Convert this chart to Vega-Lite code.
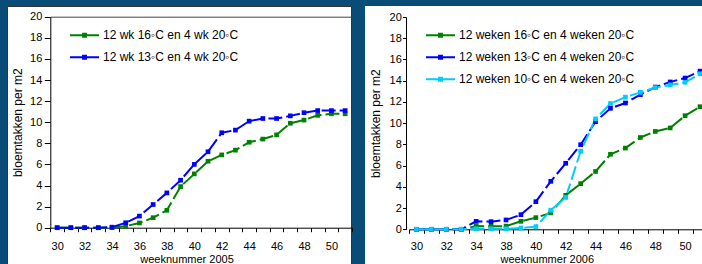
{
  "$schema": "https://vega.github.io/schema/vega-lite/v6.json",
  "background": "#0a4c78",
  "padding": {"left": 6, "top": 5, "right": 0, "bottom": 0},
  "spacing": 14,
  "bounds": "flush",
  "config": {
    "font": "Liberation Sans",
    "axis": {"labelFont": "Liberation Sans", "titleFont": "Liberation Sans", "labelColor": "#000", "titleColor": "#000", "domainColor": "#000", "tickColor": "#000", "grid": false, "labelFontSize": 11, "titleFontWeight": "normal"},
    "legend": {"labelFont": "Liberation Sans", "labelFontSize": 12, "labelColor": "#000", "padding": 0, "labelOffset": 3, "labelLimit": 400}
  },
  "datasets": {
    "left": [
      {"week": "30", "series": "12 wk 16\u25e6C en 4 wk 20\u25e6C", "value": 0},
      {"week": "31", "series": "12 wk 16\u25e6C en 4 wk 20\u25e6C", "value": 0},
      {"week": "32", "series": "12 wk 16\u25e6C en 4 wk 20\u25e6C", "value": 0},
      {"week": "33", "series": "12 wk 16\u25e6C en 4 wk 20\u25e6C", "value": 0},
      {"week": "34", "series": "12 wk 16\u25e6C en 4 wk 20\u25e6C", "value": 0},
      {"week": "35", "series": "12 wk 16\u25e6C en 4 wk 20\u25e6C", "value": 0.15},
      {"week": "36", "series": "12 wk 16\u25e6C en 4 wk 20\u25e6C", "value": 0.45},
      {"week": "37", "series": "12 wk 16\u25e6C en 4 wk 20\u25e6C", "value": 0.95},
      {"week": "38", "series": "12 wk 16\u25e6C en 4 wk 20\u25e6C", "value": 1.65},
      {"week": "39", "series": "12 wk 16\u25e6C en 4 wk 20\u25e6C", "value": 3.9},
      {"week": "40", "series": "12 wk 16\u25e6C en 4 wk 20\u25e6C", "value": 5.1},
      {"week": "41", "series": "12 wk 16\u25e6C en 4 wk 20\u25e6C", "value": 6.3},
      {"week": "42", "series": "12 wk 16\u25e6C en 4 wk 20\u25e6C", "value": 6.9},
      {"week": "43", "series": "12 wk 16\u25e6C en 4 wk 20\u25e6C", "value": 7.35},
      {"week": "44", "series": "12 wk 16\u25e6C en 4 wk 20\u25e6C", "value": 8.1},
      {"week": "45", "series": "12 wk 16\u25e6C en 4 wk 20\u25e6C", "value": 8.4},
      {"week": "46", "series": "12 wk 16\u25e6C en 4 wk 20\u25e6C", "value": 8.8},
      {"week": "47", "series": "12 wk 16\u25e6C en 4 wk 20\u25e6C", "value": 9.9},
      {"week": "48", "series": "12 wk 16\u25e6C en 4 wk 20\u25e6C", "value": 10.2},
      {"week": "49", "series": "12 wk 16\u25e6C en 4 wk 20\u25e6C", "value": 10.65},
      {"week": "50", "series": "12 wk 16\u25e6C en 4 wk 20\u25e6C", "value": 10.8},
      {"week": "51", "series": "12 wk 16\u25e6C en 4 wk 20\u25e6C", "value": 10.8},
      {"week": "30", "series": "12 wk 13\u25e6C en 4 wk 20\u25e6C", "value": 0},
      {"week": "31", "series": "12 wk 13\u25e6C en 4 wk 20\u25e6C", "value": 0},
      {"week": "32", "series": "12 wk 13\u25e6C en 4 wk 20\u25e6C", "value": 0},
      {"week": "33", "series": "12 wk 13\u25e6C en 4 wk 20\u25e6C", "value": 0},
      {"week": "34", "series": "12 wk 13\u25e6C en 4 wk 20\u25e6C", "value": 0.05},
      {"week": "35", "series": "12 wk 13\u25e6C en 4 wk 20\u25e6C", "value": 0.47},
      {"week": "36", "series": "12 wk 13\u25e6C en 4 wk 20\u25e6C", "value": 1.1},
      {"week": "37", "series": "12 wk 13\u25e6C en 4 wk 20\u25e6C", "value": 2.2},
      {"week": "38", "series": "12 wk 13\u25e6C en 4 wk 20\u25e6C", "value": 3.3},
      {"week": "39", "series": "12 wk 13\u25e6C en 4 wk 20\u25e6C", "value": 4.5},
      {"week": "40", "series": "12 wk 13\u25e6C en 4 wk 20\u25e6C", "value": 6.0},
      {"week": "41", "series": "12 wk 13\u25e6C en 4 wk 20\u25e6C", "value": 7.2},
      {"week": "42", "series": "12 wk 13\u25e6C en 4 wk 20\u25e6C", "value": 9.0},
      {"week": "43", "series": "12 wk 13\u25e6C en 4 wk 20\u25e6C", "value": 9.25},
      {"week": "44", "series": "12 wk 13\u25e6C en 4 wk 20\u25e6C", "value": 10.1},
      {"week": "45", "series": "12 wk 13\u25e6C en 4 wk 20\u25e6C", "value": 10.35},
      {"week": "46", "series": "12 wk 13\u25e6C en 4 wk 20\u25e6C", "value": 10.35},
      {"week": "47", "series": "12 wk 13\u25e6C en 4 wk 20\u25e6C", "value": 10.6},
      {"week": "48", "series": "12 wk 13\u25e6C en 4 wk 20\u25e6C", "value": 10.9},
      {"week": "49", "series": "12 wk 13\u25e6C en 4 wk 20\u25e6C", "value": 11.1},
      {"week": "50", "series": "12 wk 13\u25e6C en 4 wk 20\u25e6C", "value": 11.1},
      {"week": "51", "series": "12 wk 13\u25e6C en 4 wk 20\u25e6C", "value": 11.1}
    ],
    "right": [
      {"week": "30", "series": "12 weken 16\u25e6C en 4 weken 20\u25e6C", "value": 0},
      {"week": "31", "series": "12 weken 16\u25e6C en 4 weken 20\u25e6C", "value": 0},
      {"week": "32", "series": "12 weken 16\u25e6C en 4 weken 20\u25e6C", "value": 0},
      {"week": "33", "series": "12 weken 16\u25e6C en 4 weken 20\u25e6C", "value": 0},
      {"week": "34", "series": "12 weken 16\u25e6C en 4 weken 20\u25e6C", "value": 0.3},
      {"week": "35", "series": "12 weken 16\u25e6C en 4 weken 20\u25e6C", "value": 0.28},
      {"week": "38", "series": "12 weken 16\u25e6C en 4 weken 20\u25e6C", "value": 0.3},
      {"week": "39", "series": "12 weken 16\u25e6C en 4 weken 20\u25e6C", "value": 0.75},
      {"week": "40", "series": "12 weken 16\u25e6C en 4 weken 20\u25e6C", "value": 1.1},
      {"week": "41", "series": "12 weken 16\u25e6C en 4 weken 20\u25e6C", "value": 1.55},
      {"week": "42", "series": "12 weken 16\u25e6C en 4 weken 20\u25e6C", "value": 3.2},
      {"week": "43", "series": "12 weken 16\u25e6C en 4 weken 20\u25e6C", "value": 4.3},
      {"week": "44", "series": "12 weken 16\u25e6C en 4 weken 20\u25e6C", "value": 5.45},
      {"week": "45", "series": "12 weken 16\u25e6C en 4 weken 20\u25e6C", "value": 7.07},
      {"week": "46", "series": "12 weken 16\u25e6C en 4 weken 20\u25e6C", "value": 7.65},
      {"week": "47", "series": "12 weken 16\u25e6C en 4 weken 20\u25e6C", "value": 8.65},
      {"week": "48", "series": "12 weken 16\u25e6C en 4 weken 20\u25e6C", "value": 9.22},
      {"week": "49", "series": "12 weken 16\u25e6C en 4 weken 20\u25e6C", "value": 9.55},
      {"week": "50", "series": "12 weken 16\u25e6C en 4 weken 20\u25e6C", "value": 10.7},
      {"week": "51", "series": "12 weken 16\u25e6C en 4 weken 20\u25e6C", "value": 11.55},
      {"week": "30", "series": "12 weken 13\u25e6C en 4 weken 20\u25e6C", "value": 0},
      {"week": "31", "series": "12 weken 13\u25e6C en 4 weken 20\u25e6C", "value": 0},
      {"week": "32", "series": "12 weken 13\u25e6C en 4 weken 20\u25e6C", "value": 0},
      {"week": "33", "series": "12 weken 13\u25e6C en 4 weken 20\u25e6C", "value": 0},
      {"week": "34", "series": "12 weken 13\u25e6C en 4 weken 20\u25e6C", "value": 0.75},
      {"week": "35", "series": "12 weken 13\u25e6C en 4 weken 20\u25e6C", "value": 0.72},
      {"week": "38", "series": "12 weken 13\u25e6C en 4 weken 20\u25e6C", "value": 0.88},
      {"week": "39", "series": "12 weken 13\u25e6C en 4 weken 20\u25e6C", "value": 1.38},
      {"week": "40", "series": "12 weken 13\u25e6C en 4 weken 20\u25e6C", "value": 2.6},
      {"week": "41", "series": "12 weken 13\u25e6C en 4 weken 20\u25e6C", "value": 4.52},
      {"week": "42", "series": "12 weken 13\u25e6C en 4 weken 20\u25e6C", "value": 6.22},
      {"week": "43", "series": "12 weken 13\u25e6C en 4 weken 20\u25e6C", "value": 7.97},
      {"week": "44", "series": "12 weken 13\u25e6C en 4 weken 20\u25e6C", "value": 10.14},
      {"week": "45", "series": "12 weken 13\u25e6C en 4 weken 20\u25e6C", "value": 11.4},
      {"week": "46", "series": "12 weken 13\u25e6C en 4 weken 20\u25e6C", "value": 11.9},
      {"week": "47", "series": "12 weken 13\u25e6C en 4 weken 20\u25e6C", "value": 12.68},
      {"week": "48", "series": "12 weken 13\u25e6C en 4 weken 20\u25e6C", "value": 13.4},
      {"week": "49", "series": "12 weken 13\u25e6C en 4 weken 20\u25e6C", "value": 13.88},
      {"week": "50", "series": "12 weken 13\u25e6C en 4 weken 20\u25e6C", "value": 14.25},
      {"week": "51", "series": "12 weken 13\u25e6C en 4 weken 20\u25e6C", "value": 14.9},
      {"week": "30", "series": "12 weken 10\u25e6C en 4 weken 20\u25e6C", "value": 0},
      {"week": "31", "series": "12 weken 10\u25e6C en 4 weken 20\u25e6C", "value": 0},
      {"week": "32", "series": "12 weken 10\u25e6C en 4 weken 20\u25e6C", "value": 0},
      {"week": "33", "series": "12 weken 10\u25e6C en 4 weken 20\u25e6C", "value": 0},
      {"week": "34", "series": "12 weken 10\u25e6C en 4 weken 20\u25e6C", "value": 0.05},
      {"week": "35", "series": "12 weken 10\u25e6C en 4 weken 20\u25e6C", "value": 0.05},
      {"week": "38", "series": "12 weken 10\u25e6C en 4 weken 20\u25e6C", "value": 0.05},
      {"week": "39", "series": "12 weken 10\u25e6C en 4 weken 20\u25e6C", "value": 0.12},
      {"week": "40", "series": "12 weken 10\u25e6C en 4 weken 20\u25e6C", "value": 0.25},
      {"week": "41", "series": "12 weken 10\u25e6C en 4 weken 20\u25e6C", "value": 1.8},
      {"week": "42", "series": "12 weken 10\u25e6C en 4 weken 20\u25e6C", "value": 3.0},
      {"week": "43", "series": "12 weken 10\u25e6C en 4 weken 20\u25e6C", "value": 7.35},
      {"week": "44", "series": "12 weken 10\u25e6C en 4 weken 20\u25e6C", "value": 10.4},
      {"week": "45", "series": "12 weken 10\u25e6C en 4 weken 20\u25e6C", "value": 11.85},
      {"week": "46", "series": "12 weken 10\u25e6C en 4 weken 20\u25e6C", "value": 12.45},
      {"week": "47", "series": "12 weken 10\u25e6C en 4 weken 20\u25e6C", "value": 12.9},
      {"week": "48", "series": "12 weken 10\u25e6C en 4 weken 20\u25e6C", "value": 13.35},
      {"week": "49", "series": "12 weken 10\u25e6C en 4 weken 20\u25e6C", "value": 13.6},
      {"week": "50", "series": "12 weken 10\u25e6C en 4 weken 20\u25e6C", "value": 13.85},
      {"week": "51", "series": "12 weken 10\u25e6C en 4 weken 20\u25e6C", "value": 14.65}
    ]
  },
  "resolve": {"scale": {"color": "independent", "x": "independent", "y": "independent"}, "legend": {"color": "independent"}},
  "hconcat": [
    {
      "width": 344,
      "height": 259,
      "view": {"fill": "white", "stroke": "#333333", "strokeWidth": 1},
      "data": {"name": "left"},
      "resolve": {"axis": {"x": "independent"}},
      "encoding": {
        "y": {"field": "value", "type": "quantitative",
          "scale": {"domain": [0, 20], "range": [221.7, 10.7], "nice": false},
          "axis": {"orient": "left", "offset": -43.3, "values": [0, 2, 4, 6, 8, 10, 12, 14, 16, 18, 20], "labelOverlap": false, "labelSeparation": -30, "labelFlush": false,
            "title": "bloemtakken per m2", "titleFontSize": 12, "tickSize": 6, "labelPadding": 2.5, "titlePadding": 5}},
        "color": {"field": "series", "type": "nominal", "sort": null,
          "scale": {"domain": ["12 wk 16\u25e6C en 4 wk 20\u25e6C", "12 wk 13\u25e6C en 4 wk 20\u25e6C"], "range": ["#008000", "#0000ff"]},
          "legend": {"title": null, "orient": "none", "legendX": 62, "legendY": 13.8, "labelLimit": 400,
            "symbolType": "M-1,0H1M-0.1,-0.1H0.1V0.1H-0.1Z", "symbolSize": 841, "symbolStrokeWidth": 2,
            "symbolDash": [], "rowPadding": -6.6}}
      },
      "layer": [
        {
          "mark": {"type": "line", "strokeWidth": 2, "strokeDash": [14, 4]},
          "encoding": {
            "x": {"field": "week", "type": "ordinal", "bandPosition": 0.5,
              "scale": {"type": "band", "paddingInner": 0, "paddingOuter": 0, "range": [43.3, 345]},
              "axis": {"orient": "bottom", "offset": -37.3, "tickBand": "extent", "labelAngle": 0, "labelOverlap": false,
                "labelExpr": "toNumber(datum.value) % 2 == 0 ? datum.value : ''",
                "title": "weeknummer 2005", "titleFontSize": 11, "titleX": 179.5, "titleY": 31.3, "titleBaseline": "middle",
                "tickSize": 4, "labelPadding": 9}}
          }
        },
        {
          "mark": {"type": "point", "shape": "square", "filled": true, "size": 22, "opacity": 1},
          "encoding": {
            "x": {"field": "week", "type": "ordinal", "bandPosition": 0.5, "axis": null}
          }
        },
        {
          "mark": {"type": "point", "opacity": 0},
          "encoding": {
            "x": {"field": "week", "type": "ordinal", "bandPosition": 0.5,
              "axis": {"orient": "top", "offset": -10.7, "labels": false, "ticks": false, "title": null, "domainColor": "#444444"}}
          }
        }
      ]
    },
    {
      "width": 338,
      "height": 259,
      "view": {"fill": "white", "stroke": null},
      "data": {"name": "right"},
      "encoding": {
        "x": {"field": "week", "type": "ordinal", "bandPosition": 0.5,
          "scale": {"type": "band", "paddingInner": 0, "paddingOuter": 0, "range": [44, 342.5]},
          "axis": {"orient": "bottom", "offset": -35.7, "tickBand": "extent", "labelAngle": 0, "labelOverlap": false,
            "labelExpr": "toNumber(datum.value) % 2 == 0 ? datum.value : ''",
            "title": "weeknummer 2006", "titleFontSize": 11, "titleX": 181.8, "titleY": 29.7, "titleBaseline": "middle",
            "tickSize": 4, "labelPadding": 7.5}},
        "y": {"field": "value", "type": "quantitative",
          "scale": {"domain": [0, 20], "range": [223.3, 11], "nice": false},
          "axis": {"orient": "left", "offset": -41, "values": [0, 2, 4, 6, 8, 10, 12, 14, 16, 18, 20], "labelOverlap": false, "labelSeparation": -30, "labelFlush": false,
            "title": "bloemtakken per m2", "titleFontSize": 12, "tickSize": 3.5, "labelPadding": 1.2, "titlePadding": 6.5}},
        "color": {"field": "series", "type": "nominal", "sort": null,
          "scale": {"domain": ["12 weken 16\u25e6C en 4 weken 20\u25e6C", "12 weken 13\u25e6C en 4 weken 20\u25e6C", "12 weken 10\u25e6C en 4 weken 20\u25e6C"], "range": ["#008000", "#0000ff", "#00ccff"]},
          "legend": {"title": null, "orient": "none", "legendX": 60, "legendY": 13.8, "labelLimit": 400,
            "symbolType": "M-1,0H1M-0.1,-0.1H0.1V0.1H-0.1Z", "symbolSize": 841, "symbolStrokeWidth": 2,
            "symbolDash": [], "rowPadding": -5.8}}
      },
      "layer": [
        {"mark": {"type": "line", "strokeWidth": 2, "strokeDash": [14, 4]}},
        {"mark": {"type": "point", "shape": "square", "filled": true, "size": 22, "opacity": 1}}
      ]
    }
  ]
}
